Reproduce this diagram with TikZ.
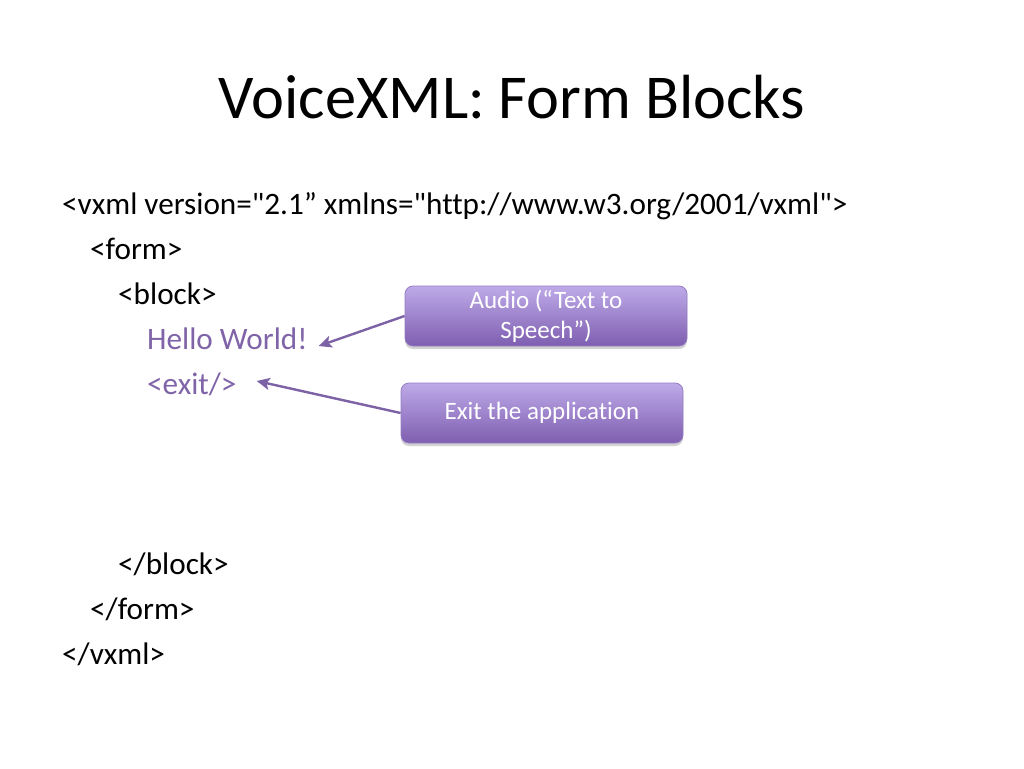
\documentclass[tikz,border=0pt]{standalone}
\usepackage{fontspec}
\setmainfont{Carlito}[Ligatures={TeXOff,CommonOff}]
\usetikzlibrary{arrows.meta,shadows}
\definecolor{codepurple}{RGB}{128,100,168}
\definecolor{boxtop}{RGB}{190,170,232}
\definecolor{boxbot}{RGB}{126,94,176}
\definecolor{boxline}{RGB}{150,124,196}
\definecolor{arrowc}{RGB}{125,98,166}
\tikzset{
  code/.style={anchor=base west, inner sep=0pt, font=\fontsize{31.2}{36}\selectfont},
  hl/.style={code, text=codepurple},
  callout/.style={rounded corners=8pt, draw=boxline, line width=0.8pt,
    top color=boxtop, bottom color=boxbot, text=white,
    minimum width=282pt, minimum height=60pt, inner sep=2pt,
    align=center, font=\fontsize{25}{30}\selectfont,
    drop shadow={shadow xshift=0pt, shadow yshift=-3pt, opacity=0.35}},
  pointer/.style={draw=arrowc, line width=2.4pt, -{Stealth[length=13pt,width=12pt,inset=3pt]}}
}
\begin{document}
\begin{tikzpicture}[x=1pt,y=-1pt]
\useasboundingbox[fill=white] (0,0) rectangle (1024,768);
\node[anchor=base, inner sep=0pt, font=\fontsize{62.4}{70}\selectfont] (title) at (512,118) {VoiceXML: Form Blocks};
\node[code] (l1) at (62,214) {<vxml version="2.1” xmlns="http://www.w3.org/2001/vxml">};
\node[code] (l2) at (90,259) {<form>};
\node[code] (l3) at (118,304) {<block>};
\node[hl] (hello) at (147,349) {Hello World!};
\node[hl] (exit) at (147,394) {<exit/>};
\node[code] (l6) at (118,574) {</block>};
\node[code] (l7) at (90,619) {</form>};
\node[code] (l8) at (62,664) {</vxml>};
\node[callout] (audio) at (546,316) {Audio (“Text to\\Speech”)};
\node[callout] (exitbox) at (542,413) {Exit the application};
\draw[pointer] (audio.west) -- ([xshift=11pt,yshift=3pt]hello.base east);
\draw[pointer] (exitbox.west) -- ([xshift=20pt,yshift=13pt]exit.base east);
\end{tikzpicture}
\end{document}
